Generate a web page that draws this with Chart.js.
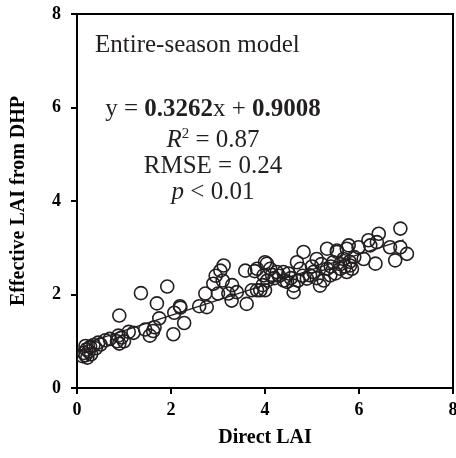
<!DOCTYPE html>
<html>
<head>
<meta charset="utf-8">
<script src="https://cdn.jsdelivr.net/npm/chart.js@4.4.1/dist/chart.umd.min.js"></script>
<style>
  html, body { margin: 0; padding: 0; background: #fff; }
  canvas { display: block; }
</style>
</head>
<body>
<canvas id="laiChart" width="456" height="458"></canvas>
<script>
// direct LAI (x) and effective LAI from DHP (y)
const directLAI = [
  0.12, 0.15, 0.18, 0.20, 0.22, 0.25, 0.28, 0.30, 0.35, 0.40, 0.45, 0.50, 0.60, 0.70, 0.18,
  0.85, 0.90, 0.95, 1.00, 0.88, 0.90,
  1.10, 1.20, 1.45, 1.55, 1.62, 1.65,
  1.36, 1.70, 1.92, 1.75, 2.07, 2.05, 2.28, 2.19, 2.20,
  2.60, 2.73, 2.76, 2.90, 3.05, 3.12, 3.00, 3.22, 3.29, 3.40, 3.58, 3.61, 3.72, 3.78, 3.90, 3.95, 4.04, 2.95, 3.10, 3.30,
  3.83, 4.00, 3.97, 4.11, 4.00, 3.83, 4.25, 4.39, 4.47, 4.61, 4.61, 4.68, 4.82, 4.75, 4.89, 4.96, 5.10, 5.17, 5.03,
  5.32, 5.32, 5.39, 5.45, 5.53, 5.60, 5.74, 5.67,
  4.20, 4.30, 4.50, 4.55, 4.70, 4.80, 5.00, 5.10, 5.25, 5.40, 5.50, 5.60, 5.70, 5.20, 4.40, 4.15, 4.05, 5.80, 5.85, 5.90,
  6.88, 6.42, 6.20, 6.38, 6.24, 6.66, 6.88, 7.02, 6.77, 6.35, 6.10, 5.99, 5.78, 5.53, 5.81, 5.74
];
const effectiveLAI = [
  0.68, 0.75, 0.70, 0.82, 0.65, 0.78, 0.88, 0.72, 0.92, 0.85, 0.97, 0.93, 1.02, 1.05, 0.90,
  1.00, 0.95, 1.08, 1.00, 1.12, 1.55,
  1.20, 1.18, 1.25, 1.12, 1.22, 1.30,
  2.03, 1.81, 2.17, 1.49, 1.61, 1.15, 1.39, 1.75, 1.72,
  1.75, 2.02, 1.73, 2.23, 2.51, 2.62, 2.02, 2.02, 1.87, 2.05, 2.51, 1.80, 2.09, 2.50, 2.09, 2.20, 2.66, 2.40, 2.30, 2.20,
  2.55, 2.69, 2.41, 2.55, 2.09, 2.09, 2.48, 2.48, 2.27, 2.19, 2.05, 2.69, 2.91, 2.55, 2.34, 2.41, 2.76, 2.19, 2.48,
  2.98, 2.55, 2.41, 2.69, 2.91, 2.55, 2.98, 2.76,
  2.35, 2.40, 2.45, 2.35, 2.30, 2.40, 2.60, 2.35, 2.30, 2.60, 2.45, 2.65, 2.60, 2.65, 2.30, 2.42, 2.30, 2.70, 2.55, 2.80,
  3.41, 3.30, 3.16, 3.12, 3.05, 3.01, 3.01, 2.87, 2.73, 2.66, 2.76, 3.01, 3.05, 2.94, 2.62, 2.48
];
const axisTicks = [0, 2, 4, 6, 8];

// fitted model
const slope = 0.3262;
const intercept = 0.9008;
const fitRange = [0.1, 6.95];

const ink = '#231f20';
const serif = "'Liberation Serif', 'Times New Roman', serif";

const points = directLAI.map((x, i) => ({ x: x, y: effectiveLAI[i] }));
const fitLine = fitRange.map(x => ({ x: x, y: slope * x + intercept }));

// draws a row of text pieces with different fonts, centred on cx
function drawRow(ctx, pieces, cx, y) {
  let total = 0;
  pieces.forEach(p => { ctx.font = p.font; total += ctx.measureText(p.text).width; });
  let x = cx - total / 2;
  pieces.forEach(p => {
    ctx.font = p.font;
    ctx.fillText(p.text, x, y + (p.dy || 0));
    x += ctx.measureText(p.text).width;
  });
}

var frameAndText = {
  id: 'frameAndText',
  afterDraw(chart) {
    const { ctx, chartArea: { left, top, right, bottom } } = chart;
    ctx.save();
    // top + right sides of the box
    ctx.strokeStyle = '#000';
    ctx.lineWidth = 2;
    ctx.beginPath();
    ctx.moveTo(left - 1, top);
    ctx.lineTo(right, top);
    ctx.lineTo(right, bottom + 1);
    ctx.stroke();

    ctx.fillStyle = ink;
    ctx.textAlign = 'left';
    ctx.textBaseline = 'alphabetic';
    const reg = '25px ' + serif;
    const bold = 'bold 25px ' + serif;
    const ital = 'italic 25px ' + serif;
    ctx.font = reg;
    ctx.fillText('Entire-season model', left + 18, top + 38);

    const cx = left + 136;
    drawRow(ctx, [
      { text: 'y = ', font: reg },
      { text: '0.3262', font: bold },
      { text: 'x + ', font: reg },
      { text: '0.9008', font: bold }
    ], cx, top + 102);
    drawRow(ctx, [
      { text: 'R', font: ital },
      { text: '2', font: '15px ' + serif, dy: -9 },
      { text: ' = 0.87', font: reg }
    ], cx, top + 133);
    drawRow(ctx, [{ text: 'RMSE = 0.24', font: reg }], cx, top + 159);
    drawRow(ctx, [
      { text: 'p', font: ital },
      { text: ' < 0.01', font: reg }
    ], cx, top + 185);
    ctx.restore();
  }
};

const tickFont = { family: serif, size: 18, weight: 'bold' };
const titleFont = { family: serif, size: 20, weight: 'bold' };

const laiConfig = {
  type: 'scatter',
  data: {
    datasets: [{
      label: 'Observations',
      data: points,
      pointStyle: 'circle',
      pointRadius: 6.5,
      pointHoverRadius: 6.5,
      pointBorderWidth: 1.6,
      pointBorderColor: ink,
      pointBackgroundColor: 'transparent',
      order: 2
    }, {
      label: 'Fit',
      type: 'line',
      data: fitLine,
      borderColor: ink,
      borderWidth: 1.4,
      pointRadius: 0,
      fill: false,
      order: 1
    }]
  },
  options: {
    responsive: false,
    animation: false,
    layout: { autoPadding: false, padding: { top: 14, right: 3, left: 0, bottom: 0 } },
    plugins: {
      legend: { display: false },
      tooltip: { enabled: false }
    },
    scales: {
      x: {
        type: 'linear',
        min: 0,
        max: 8,
        afterBuildTicks: s => { s.ticks = axisTicks.map(v => ({ value: v })); },
        afterFit: s => { s.height = 70; s.paddingLeft = 0; s.paddingRight = 0; },
        ticks: { color: '#000', font: tickFont, padding: 6, maxRotation: 0 },
        grid: { drawOnChartArea: false, tickLength: 6, color: '#000', lineWidth: 2 },
        border: { color: '#000', width: 2 },
        title: { display: true, text: 'Direct LAI', color: '#000', font: titleFont, padding: { top: 0, bottom: 8 } }
      },
      y: {
        type: 'linear',
        min: 0,
        max: 8,
        afterBuildTicks: s => { s.ticks = axisTicks.map(v => ({ value: v })); },
        afterFit: s => { s.width = 77; s.paddingTop = 0; s.paddingBottom = 0; },
        ticks: { color: '#000', font: tickFont, padding: 10 },
        grid: { drawOnChartArea: false, tickLength: 6, color: '#000', lineWidth: 2 },
        border: { color: '#000', width: 2 },
        title: { display: true, text: 'Effective LAI from DHP', color: '#000', font: titleFont, padding: { top: 7, bottom: 0 } }
      }
    }
  },
  plugins: [frameAndText]
};

const laiChart = new Chart(document.getElementById('laiChart'), laiConfig);
</script>
</body>
</html>
